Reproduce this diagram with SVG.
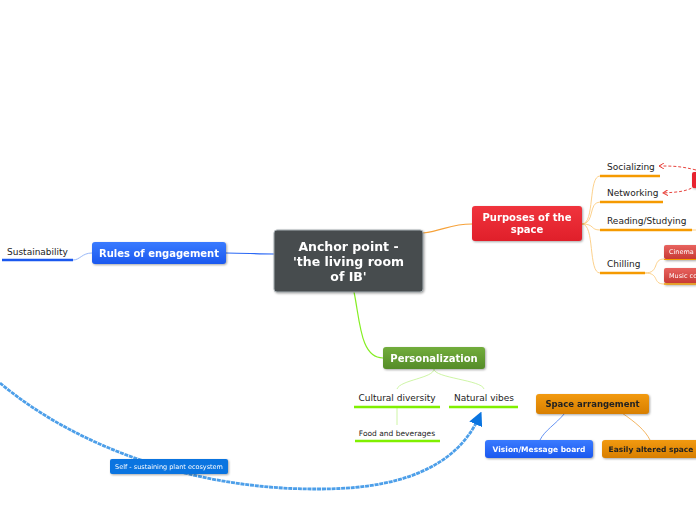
<svg xmlns="http://www.w3.org/2000/svg" width="696" height="520" viewBox="0 0 696 520">
<defs>
<linearGradient id="gRed" x1="0" y1="0" x2="0" y2="1"><stop offset="0" stop-color="#f0343d"/><stop offset="1" stop-color="#e01f2a"/></linearGradient>
<linearGradient id="gBlue" x1="0" y1="0" x2="0" y2="1"><stop offset="0" stop-color="#3a7bff"/><stop offset="1" stop-color="#1a58ef"/></linearGradient>
<linearGradient id="gGreen" x1="0" y1="0" x2="0" y2="1"><stop offset="0" stop-color="#72ad3c"/><stop offset="1" stop-color="#558c28"/></linearGradient>
<linearGradient id="gOrange" x1="0" y1="0" x2="0" y2="1"><stop offset="0" stop-color="#f29a10"/><stop offset="1" stop-color="#d87f00"/></linearGradient>
<linearGradient id="gSmallRed" x1="0" y1="0" x2="0" y2="1"><stop offset="0" stop-color="#e8635f"/><stop offset="1" stop-color="#c83a35"/></linearGradient>
<marker id="arrBlue" markerWidth="14" markerHeight="14" refX="8" refY="7" orient="auto" markerUnits="userSpaceOnUse"><path d="M0,0 L14,7 L0,14 z" fill="#0a74e0"/></marker>
<marker id="arrRed" markerWidth="6" markerHeight="6" refX="5" refY="3" orient="auto" markerUnits="userSpaceOnUse"><path d="M0,0 L5,3 L0,6" fill="none" stroke="#e8453f" stroke-width="1"/></marker>
</defs>
<style>
text{font-family:"DejaVu Sans",Verdana,sans-serif;}
.ctr{fill:#fff;font-weight:bold;font-size:12.5px;text-anchor:middle;}
.main{fill:#fff;font-weight:bold;font-size:10px;text-anchor:middle;}
.sub{fill:#222;font-size:9px;}
.small{fill:#222;font-size:7.5px;}
.tiny{fill:#fff;font-size:6.5px;}
.dark{fill:#222;font-weight:bold;font-size:8.5px;text-anchor:middle;}
.wb{fill:#fff;font-weight:bold;font-size:7.5px;text-anchor:middle;}
.shadow{filter:drop-shadow(1px 1px 1px rgba(0,0,0,0.35));}
</style>
<g id="connectors" fill="none">
<path d="M423,233 C445,230 450,224 472,224" stroke="#f6a23a" stroke-width="1.2"/>
<path d="M274,254 C255,254 245,253 226,253" stroke="#2a68f5" stroke-width="1.2"/>
<path d="M92,253 C82,253 80,260 73,260" stroke="#7fa6f5" stroke-width="0.8"/>
<path d="M354,292 C360,320 360,358 383,358" stroke="#84ee22" stroke-width="1.2"/>
<path d="M434,369 C434,378 400,380 397,389 M434,369 C434,378 482,380 484,389" stroke="#c2f28f" stroke-width="0.8"/>
<path d="M397,407 L397,425" stroke="#c2f28f" stroke-width="0.8"/>
<path d="M582,224 C595,224 588,176 600,176 M582,224 C595,224 588,202 600,202 M582,224 C595,224 590,230 600,230 M582,224 C595,224 588,273 600,273" stroke="#fbc56e" stroke-width="0.8"/>
<path d="M645,273 C660,273 652,259 664,259 M645,273 C660,273 652,284 664,284" stroke="#fbc56e" stroke-width="0.8"/>
<path d="M565,413 C555,425 545,430 540,440" stroke="#3f78f0" stroke-width="0.8"/>
<path d="M622,413 C635,422 645,430 650,440" stroke="#f0a23a" stroke-width="0.8"/>
<path d="M0,383 C80,450 200,490 320,489 C420,489 462,455 479,417" stroke="#4d9fe9" stroke-width="2.8" stroke-dasharray="4,0.8" marker-end="url(#arrBlue)"/>
<path d="M696,170 C680,166 672,166 659,166" stroke="#e8453f" stroke-width="1" stroke-dasharray="3,2" marker-end="url(#arrRed)"/>
<path d="M696,186 C685,192 678,192 663,193" stroke="#e8453f" stroke-width="1" stroke-dasharray="3,2" marker-end="url(#arrRed)"/>
</g>
<g id="center" class="shadow"><rect x="274" y="230" width="149" height="62" rx="3" fill="#474c4e" stroke="#a8b0b4" stroke-width="1"/>
<text class="ctr" x="348.5" y="251">Anchor point -</text><text class="ctr" x="348.5" y="266">'the living room</text><text class="ctr" x="348.5" y="281">of IB'</text></g>
<g id="purposes" class="shadow"><rect x="472" y="206" width="110" height="35" rx="3" fill="url(#gRed)"/>
<text class="main" x="527" y="221">Purposes of the</text><text class="main" x="527" y="233">space</text></g>
<g id="rules" class="shadow"><rect x="92" y="242" width="134" height="22" rx="3" fill="url(#gBlue)"/>
<text class="main" x="159" y="257">Rules of engagement</text></g>
<g id="sustainability"><text class="sub" x="7" y="255">Sustainability</text><line x1="2" y1="260" x2="73" y2="260" stroke="#1a58ef" stroke-width="2.5"/></g>
<g id="personalization" class="shadow"><rect x="383" y="347" width="102" height="22" rx="3" fill="url(#gGreen)"/>
<text class="main" x="434" y="362">Personalization</text></g>
<g id="cultural"><text class="sub" x="397" y="401" text-anchor="middle">Cultural diversity</text><line x1="354" y1="407" x2="440" y2="407" stroke="#80f000" stroke-width="2.5"/></g>
<g id="natural"><text class="sub" x="484" y="401" text-anchor="middle">Natural vibes</text><line x1="449" y1="407" x2="518" y2="407" stroke="#80f000" stroke-width="2.5"/></g>
<g id="food"><text class="small" x="397" y="436" text-anchor="middle">Food and beverages</text><line x1="355" y1="441" x2="440" y2="441" stroke="#80f000" stroke-width="2.5"/></g>
<g id="space-arrangement" class="shadow"><rect x="536" y="394" width="113" height="20" rx="3" fill="url(#gOrange)"/>
<text class="dark" x="592.5" y="407">Space arrangement</text></g>
<g id="vision" class="shadow"><rect x="485" y="440" width="108" height="18" rx="3" fill="url(#gBlue)"/>
<text class="wb" x="539" y="452">Vision/Message board</text></g>
<g id="easily" class="shadow"><rect x="602" y="440" width="100" height="18" rx="3" fill="url(#gOrange)"/>
<text class="dark" x="651" y="452" style="font-size:7.5px">Easily altered space</text></g>
<g id="plant" class="shadow"><rect x="110" y="459" width="118" height="15" rx="2" fill="#0a74e0"/>
<text class="tiny" x="169" y="469" text-anchor="middle">Self - sustaining plant ecosystem</text></g>
<g id="socializing"><text class="sub" x="607" y="170">Socializing</text><line x1="600" y1="176" x2="660" y2="176" stroke="#f59a00" stroke-width="2.5"/></g>
<g id="networking"><text class="sub" x="607" y="196">Networking</text><line x1="600" y1="202" x2="663" y2="202" stroke="#f59a00" stroke-width="2.5"/></g>
<g id="reading"><text class="sub" x="607" y="224">Reading/Studying</text><line x1="600" y1="230" x2="692" y2="230" stroke="#f59a00" stroke-width="2.5"/><line x1="692" y1="230" x2="696" y2="230" stroke="#fbc56e" stroke-width="0.8"/></g>
<g id="chilling"><text class="sub" x="607" y="267">Chilling</text><line x1="600" y1="273" x2="645" y2="273" stroke="#f59a00" stroke-width="2.5"/></g>
<g id="red-node" class="shadow"><rect x="692" y="172" width="10" height="16" rx="2" fill="#e8232f"/></g>
<g id="cinema" class="shadow"><rect x="664" y="245" width="40" height="14" rx="2" fill="url(#gSmallRed)"/><text class="tiny" x="669" y="254">Cinema</text><line x1="664" y1="259.5" x2="696" y2="259.5" stroke="#f59a00" stroke-width="1"/></g>
<g id="music" class="shadow"><rect x="664" y="268" width="40" height="15" rx="2" fill="url(#gSmallRed)"/><text class="tiny" x="669" y="278">Music co</text><line x1="664" y1="284" x2="696" y2="284" stroke="#f59a00" stroke-width="1.5"/></g>
</svg>
